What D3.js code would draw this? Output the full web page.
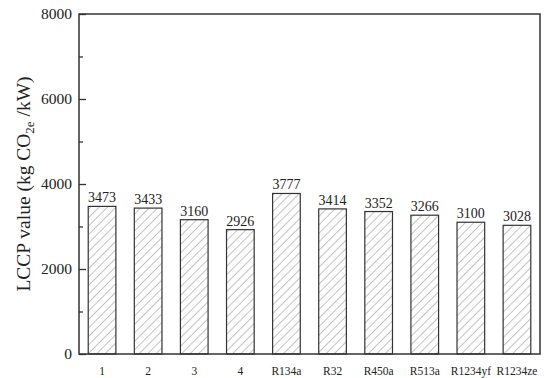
<!DOCTYPE html>
<html><head><meta charset="utf-8">
<script src="https://cdn.jsdelivr.net/npm/d3@7"></script>
<style>body{margin:0;background:#fff}svg{display:block}</style>
</head><body>
<script>
const categories = ["1","2","3","4","R134a","R32","R450a","R513a","R1234yf","R1234ze"];
const values = [3473,3433,3160,2926,3777,3414,3352,3266,3100,3028];
const yTicks = [0,2000,4000,6000,8000];
const yMinor = [1000,3000,5000,7000];

const W=550,H=378;
const m={left:79,right:10,top:14,bottom:24};
const svg=d3.select("body").append("svg").attr("width",W).attr("height",H);
const font="'Liberation Serif','Times New Roman',serif";

const defs=svg.append("defs");
const pat=defs.append("pattern").attr("id","hatch").attr("patternUnits","userSpaceOnUse")
  .attr("width",6).attr("height",6).attr("patternTransform","rotate(45)");
pat.append("rect").attr("width",6).attr("height",6).attr("fill","#fff");
pat.append("line").attr("x1",0).attr("y1",0).attr("x2",0).attr("y2",6)
  .attr("stroke","#666").attr("stroke-width",0.8);

const x=d3.scaleBand().domain(categories).range([m.left,W-m.right]).paddingInner(0.4).paddingOuter(0.2);
const y=d3.scaleLinear().domain([0,8000]).range([H-m.bottom,m.top]);

const g=svg.append("g");
g.selectAll("rect.bar").data(values).join("rect").attr("class","bar")
  .attr("x",(d,i)=>x(categories[i])).attr("y",d=>y(d))
  .attr("width",x.bandwidth()).attr("height",d=>y(0)-y(d))
  .attr("fill","url(#hatch)").attr("stroke","#333").attr("stroke-width",1.2);

g.selectAll("text.val").data(values).join("text").attr("class","val")
  .attr("x",(d,i)=>x(categories[i])+x.bandwidth()/2).attr("y",d=>y(d)-4)
  .attr("text-anchor","middle").attr("font-family",font).attr("font-size",14).attr("fill","#222")
  .text(d=>d);

// frame
svg.append("rect").attr("x",m.left).attr("y",m.top).attr("width",W-m.right-m.left).attr("height",H-m.bottom-m.top)
  .attr("fill","none").attr("stroke","#333").attr("stroke-width",1.5);

// y axis
const ya=svg.append("g").attr("transform",`translate(${m.left},0)`)
  .call(d3.axisRight(y).tickValues(yTicks).tickSize(7).tickFormat(""));
ya.select(".domain").remove();
ya.selectAll("line").attr("stroke","#333").attr("stroke-width",1.3);
const ym=svg.append("g").attr("transform",`translate(${m.left},0)`)
  .call(d3.axisRight(y).tickValues(yMinor).tickSize(4).tickFormat(""));
ym.select(".domain").remove();
ym.selectAll("line").attr("stroke","#333").attr("stroke-width",1.3);
svg.append("g").selectAll("text").data(yTicks).join("text")
  .attr("x",m.left-7).attr("y",d=>y(d)).attr("dy","0.35em").attr("text-anchor","end")
  .attr("font-family",font).attr("font-size",15.5).attr("fill","#222").text(d=>d);

// x labels
const xa=svg.append("g").attr("transform",`translate(0,${H-m.bottom})`)
  .call(d3.axisBottom(x).tickSize(0).tickPadding(13));
xa.select(".domain").remove();
xa.selectAll("text").attr("font-family",font).attr("font-size",11.5).attr("fill","#222");

// y label
const yl=svg.append("text").attr("transform",`translate(30,${(m.top+H-m.bottom)/2}) rotate(-90)`)
  .attr("text-anchor","middle").attr("font-family",font).attr("font-size",19.5).attr("fill","#222");
yl.append("tspan").text("LCCP value (kg CO");
yl.append("tspan").attr("font-size",13).attr("dy",4).text("2e");
yl.append("tspan").attr("dy",-4).text(" /kW)");
</script>
</body></html>
